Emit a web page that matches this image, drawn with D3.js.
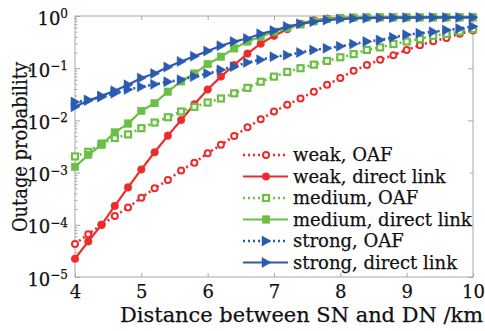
<!doctype html>
<html lang='en'>
<head>
<meta charset="utf-8">
<script src="https://d3js.org/d3.v7.min.js"></script>
<style>
  body { margin: 0; background: white; }
  svg { display: block; }
  text { font-family: "DejaVu Serif", serif; fill: #111; stroke: #111; stroke-width: 0.25px; }
</style>
</head>
<body>
<div id='chart'></div>
<script>
// distance between SN and DN (km)
const distance = [4.0, 4.2, 4.4, 4.6, 4.8, 5.0, 5.2, 5.4, 5.6, 5.8, 6.0, 6.2, 6.4, 6.6, 6.8, 7.0,
                  7.2, 7.4, 7.6, 7.8, 8.0, 8.2, 8.4, 8.6, 8.8, 9.0, 9.2, 9.4, 9.6, 9.8, 10.0];

const weakOAF = [4.3e-5, 6.6e-5, 1.0e-4, 1.48e-4, 2.14e-4, 3.3e-4, 5.0e-4, 7.2e-4, 1.1e-3, 1.55e-3,
                 2.35e-3, 3.4e-3, 5.0e-3, 7.4e-3, 1.05e-2, 1.48e-2, 2.0e-2, 2.63e-2, 3.55e-2, 4.8e-2,
                 6.5e-2, 8.9e-2, 0.115, 0.145, 0.178, 0.224, 0.275, 0.33, 0.38, 0.457, 0.525];
const weakDirect = [2.24e-5, 4.8e-5, 1.0e-4, 2.3e-4, 5.2e-4, 1.15e-3, 2.45e-3, 5.1e-3, 1.02e-2, 2.04e-2,
                    3.9e-2, 6.9e-2, 0.115, 0.19, 0.295, 0.417, 0.56, 0.71, 0.83, 0.89,
                    0.92, 0.93, 0.935, 0.94, 0.94, 0.94, 0.94, 0.94, 0.94, 0.94, 0.94];
const mediumOAF = [2.04e-3, 2.5e-3, 3.6e-3, 4.6e-3, 5.4e-3, 7.1e-3, 9.1e-3, 1.15e-2, 1.48e-2, 1.82e-2,
                   2.2e-2, 2.63e-2, 3.3e-2, 4.2e-2, 5.5e-2, 6.9e-2, 8.5e-2, 0.10, 0.117, 0.138,
                   0.162, 0.186, 0.224, 0.25, 0.29, 0.324, 0.363, 0.417, 0.457, 0.50, 0.56];
const mediumDirect = [1.29e-3, 2.19e-3, 3.4e-3, 5.9e-3, 8.7e-3, 1.52e-2, 2.14e-2, 3.55e-2, 5.6e-2, 7.9e-2,
                      0.12, 0.166, 0.24, 0.324, 0.40, 0.50, 0.59, 0.69, 0.79, 0.87,
                      0.91, 0.93, 0.94, 0.94, 0.94, 0.94, 0.94, 0.94, 0.94, 0.94, 0.94];
const strongOAF = [2.24e-2, 2.45e-2, 2.8e-2, 3.3e-2, 3.9e-2, 4.4e-2, 4.9e-2, 5.5e-2, 6.0e-2, 6.9e-2,
                   7.9e-2, 9.3e-2, 0.107, 0.129, 0.145, 0.166, 0.178, 0.20, 0.224, 0.24,
                   0.263, 0.29, 0.324, 0.347, 0.39, 0.437, 0.468, 0.50, 0.537, 0.575, 0.63];
const strongDirect = [1.82e-2, 2.4e-2, 2.95e-2, 3.7e-2, 4.8e-2, 6.5e-2, 7.9e-2, 0.105, 0.135, 0.17,
                      0.214, 0.27, 0.324, 0.37, 0.457, 0.525, 0.63, 0.71, 0.78, 0.83,
                      0.87, 0.90, 0.91, 0.92, 0.93, 0.93, 0.94, 0.94, 0.94, 0.94, 0.94];

const seriesNames = ['weak, OAF', 'weak, direct link', 'medium, OAF', 'medium, direct link',
                     'strong, OAF', 'strong, direct link'];
const seriesValues = [weakOAF, weakDirect, mediumOAF, mediumDirect, strongOAF, strongDirect];
const xTicks = [4, 5, 6, 7, 8, 9, 10];
const yTicks = [1e-5, 1e-4, 1e-3, 1e-2, 1e-1, 1];
const yExponents = ['\u22125', '\u22124', '\u22123', '\u22122', '\u22121', '0'];

const red = '#ee2b2b', green = '#6cbf45', blue = '#2a5bb0';
const styles = [
  {color: red, dash: '2,3', marker: 'circle', open: true},
  {color: red, dash: null, marker: 'circle', open: false},
  {color: green, dash: '2,3', marker: 'square', open: true},
  {color: green, dash: null, marker: 'square', open: false},
  {color: blue, dash: '2,3', marker: 'triangle', open: false},
  {color: blue, dash: null, marker: 'triangle', open: false}
];

const wsvg = 485, hsvg = 331;
const mLeft = 75, mRight = 473, mTop = 16, mBottom = 277;

const svg = d3.select('#chart').append('svg')
  .attr('width', wsvg).attr('height', hsvg);

const xScale = d3.scaleLinear().domain([4, 10]).range([mLeft, mRight]);
const yScale = d3.scaleLog().domain([1e-5, 1]).range([mBottom, mTop]);

// frame
svg.append('rect')
  .attr('x', mLeft).attr('y', mTop)
  .attr('width', mRight - mLeft).attr('height', mBottom - mTop)
  .attr('fill', 'none').attr('stroke', '#a8a8a8').attr('stroke-width', 1);

// minor log ticks on y
const minor = [];
for (let e = -5; e < 0; e++) {
  for (let m = 2; m <= 9; m++) minor.push(m * Math.pow(10, e));
}

const xAxis = d3.axisBottom(xScale).tickValues(xTicks).tickSize(-4).tickPadding(8)
  .tickFormat(d3.format('d'));
const gx = svg.append('g')
  .attr('transform', 'translate(0,' + mBottom + ')')
  .call(xAxis);
gx.select('.domain').remove();
gx.selectAll('line').attr('stroke', '#a8a8a8');
gx.selectAll('text').attr('font-size', 18).attr('fill', '#111')
  .attr('font-family', '"DejaVu Serif", serif');

const gxTop = svg.append('g')
  .attr('transform', 'translate(0,' + mTop + ')')
  .call(d3.axisTop(xScale).tickValues(xTicks).tickSize(-4).tickFormat(''));
gxTop.select('.domain').remove();
gxTop.selectAll('line').attr('stroke', '#a8a8a8');

const gy = svg.append('g')
  .attr('transform', 'translate(' + mLeft + ',0)')
  .call(d3.axisLeft(yScale).tickValues(yTicks).tickSize(-5).tickPadding(7).tickFormat(''));
gy.select('.domain').remove();
gy.selectAll('line').attr('stroke', '#a8a8a8');
gy.selectAll('.tick text').each(function (d, i) {
  const t = d3.select(this)
    .attr('font-size', 18).attr('fill', '#111')
    .attr('font-family', '"DejaVu Serif", serif')
    .attr('dy', '0.45em');
  t.append('tspan').text('10');
  t.append('tspan').attr('dy', '-0.55em').attr('font-size', 12).text(yExponents[i]);
});

const gyMinor = svg.append('g')
  .attr('transform', 'translate(' + mLeft + ',0)')
  .call(d3.axisLeft(yScale).tickValues(minor).tickSize(-2.5).tickFormat(''));
gyMinor.select('.domain').remove();
gyMinor.selectAll('line').attr('stroke', '#a8a8a8');

const gyRight = svg.append('g')
  .attr('transform', 'translate(' + mRight + ',0)')
  .call(d3.axisRight(yScale).tickValues(yTicks).tickSize(-5).tickFormat(''));
gyRight.select('.domain').remove();
gyRight.selectAll('line').attr('stroke', '#a8a8a8');

// axis labels
svg.append('text')
  .attr('x', 120).attr('y', 322)
  .attr('font-size', 20.5)
  .attr('textLength', 363).attr('lengthAdjust', 'spacingAndGlyphs')
  .text('Distance between SN and DN /km');

svg.append('text')
  .attr('transform', 'translate(27,232) rotate(-90)')
  .attr('font-size', 20)
  .attr('textLength', 170).attr('lengthAdjust', 'spacingAndGlyphs')
  .text('Outage probability');

function drawMarker(g, type, x, y, st) {
  if (type === 'circle') {
    g.append('circle').attr('cx', x).attr('cy', y)
      .attr('r', st.open ? 3 : 3.8)
      .attr('fill', st.open ? 'white' : st.color)
      .attr('stroke', st.color).attr('stroke-width', st.open ? 2 : 0.5);
  } else if (type === 'square') {
    const s = st.open ? 6 : 7.5;
    g.append('rect').attr('x', x - s / 2).attr('y', y - s / 2)
      .attr('width', s).attr('height', s)
      .attr('fill', st.open ? 'white' : st.color)
      .attr('stroke', st.color).attr('stroke-width', st.open ? 2.2 : 0.5);
  } else {
    g.append('path')
      .attr('d', 'M' + (x - 4) + ',' + (y - 5) + 'L' + (x + 5) + ',' + y + 'L' + (x - 4) + ',' + (y + 5) + 'Z')
      .attr('fill', st.color).attr('stroke', st.color).attr('stroke-width', 0.5);
  }
}

const line = d3.line()
  .x((d, i) => xScale(distance[i]))
  .y(d => yScale(d));

const plot = svg.append('g');
seriesValues.forEach((vals, k) => {
  const st = styles[k];
  plot.append('path')
    .attr('d', line(vals))
    .attr('fill', 'none')
    .attr('stroke', st.color)
    .attr('stroke-width', st.dash ? 2.6 : 2.2)
    .attr('stroke-dasharray', st.dash);
  const mg = plot.append('g');
  vals.forEach((v, i) => drawMarker(mg, st.marker, xScale(distance[i]), yScale(v), st));
});

// legend
const legend = svg.append('g');
legend.append('rect')
  .attr('x', 238).attr('y', 142).attr('width', 232).attr('height', 130)
  .attr('fill', 'white');
seriesNames.forEach((name, k) => {
  const st = styles[k];
  const y = 155 + k * 21.5;
  legend.append('line')
    .attr('x1', 243).attr('x2', 288).attr('y1', y).attr('y2', y)
    .attr('stroke', st.color)
    .attr('stroke-width', st.dash ? 2.6 : 2.2)
    .attr('stroke-dasharray', st.dash);
  drawMarker(legend, st.marker, 266, y, st);
  legend.append('text')
    .attr('x', 293).attr('y', y + 6)
    .attr('font-size', 18)
    .text(name);
});
</script>
</body>
</html>
